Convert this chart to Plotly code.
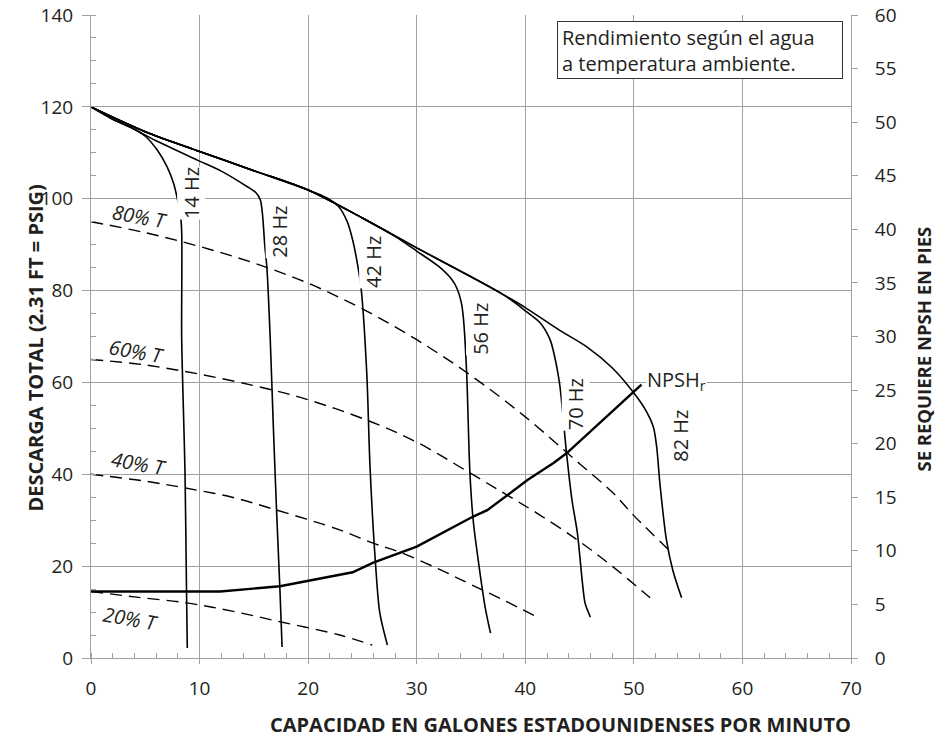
import plotly.graph_objects as go

# pump curves: capacity (US gpm) vs total head
hz14_x = [0, 2, 3.6, 5, 6.1, 7, 7.6, 8.0, 8.2, 8.35, 8.35, 8.5, 8.66, 8.8, 8.87]
hz14_y = [120, 117.3, 115.6, 113.6, 110.6, 107, 103.4, 99.5, 97.3, 93, 70, 55, 40.3, 14.2, 2.2]

hz28_x = [0, 2, 3.6, 6, 9.8, 12, 14.4, 15.2, 15.6, 15.8, 16.0, 16.2, 16.5, 16.8, 17.1, 17.4, 17.6]
hz28_y = [120, 117.3, 115.6, 112.6, 108.4, 106, 102.6, 101.3, 99.7, 96.5, 90, 85, 70, 50, 31.6, 15, 2.4]

hz42_x = [0, 5, 10, 15, 20, 21.7, 22.8, 23.6, 24.1, 24.6, 24.9, 25.4, 25.7, 26.2, 26.6, 27.3]
hz42_y = [120, 114.6, 110.3, 106.1, 101.9, 100.2, 98.3, 95, 91, 85, 80, 62, 41.6, 20.7, 9.8, 2.8]

hz56_x = [0, 5, 10, 15, 20, 25, 28, 30, 32, 33.2, 33.7, 34.1, 34.3, 34.6, 34.9, 35.2, 35.7, 36.3, 36.8]
hz56_y = [120, 114.6, 110.3, 106.1, 101.9, 95.8, 91.8, 88.6, 85.3, 82.5, 80.5, 77.5, 74, 62, 40.3, 30, 20.7, 11.1, 5.4]

hz70_x = [0, 5, 10, 15, 20, 25, 30, 35, 37.7, 38.9, 40, 41.4, 42.3, 42.9, 43.2, 43.8, 44.3, 44.8, 45.5, 45.8, 46.0]
hz70_y = [120, 114.6, 110.3, 106.1, 101.9, 95.8, 89.3, 83, 79.5, 77.6, 75.6, 72.9, 69.2, 63.4, 59, 44.6, 34.4, 27.2, 12, 10, 8.9]

hz82_x = [0, 5, 10, 15, 20, 25, 30, 35, 37.7, 40, 43, 45.7, 48, 49.9, 51.2, 51.8, 52.1, 52.4, 53.0, 53.6, 54.4]
hz82_y = [120, 114.6, 110.3, 106.1, 101.9, 95.8, 89.3, 83, 79.5, 76.3, 71.6, 67.7, 63.2, 58, 53.5, 50.3, 46, 38, 25.7, 19, 13.1]

# efficiency curves
eff80_x = [0, 5, 10, 15, 20, 25, 30, 35, 40, 45, 48.1, 50, 53.5]
eff80_y = [95, 92.6, 89.6, 86, 81.6, 76, 69.3, 61.5, 52.5, 42.3, 35.9, 31, 22.9]
eff60_x = [0, 5, 10, 15, 19.2, 25.4, 30, 34.9, 38.3, 41.1, 44.8, 48, 51.5]
eff60_y = [65, 63.8, 61.8, 59.3, 56.8, 51.8, 47, 40.3, 35.5, 31.5, 25.7, 20, 13.1]
eff40_x = [0, 5, 8.7, 13, 17.1, 22.9, 26, 28.7, 32, 35, 38, 41.1]
eff40_y = [40, 38.5, 37, 35, 32.2, 27.9, 25, 22.8, 19.4, 16, 12.6, 8.9]
eff20_x = [0, 4, 8.8, 13, 17.4, 22.9, 25.9]
eff20_y = [14.5, 13.3, 12, 10.2, 7.9, 5.0, 2.8]

# NPSHr (right axis, ft)
npsh_x = [0, 11.9, 17.4, 22.9, 24.1, 26, 30, 35.2, 36.5, 40.2, 42.6, 43.8, 50.7]
npsh_y = [6.2, 6.2, 6.7, 7.8, 8.0, 8.9, 10.4, 13.2, 13.8, 16.6, 18.2, 19.1, 25.5]

FONT = "Open Sans"
TXT = "#231f20"
GRID = "#a0a0a0"

fig = go.Figure()

for xs, ys in [(hz14_x, hz14_y), (hz28_x, hz28_y), (hz42_x, hz42_y),
               (hz56_x, hz56_y), (hz70_x, hz70_y), (hz82_x, hz82_y)]:
    fig.add_trace(go.Scatter(x=xs, y=ys, mode="lines", line=dict(color="black", width=1.6, shape="spline", smoothing=0.8),
                             showlegend=False, hoverinfo="skip"))

for xs, ys in [(eff80_x, eff80_y), (eff60_x, eff60_y), (eff40_x, eff40_y), (eff20_x, eff20_y)]:
    fig.add_trace(go.Scatter(x=xs, y=ys, mode="lines", line=dict(color="black", width=1.4, dash="12px,7px", shape="spline"),
                             showlegend=False, hoverinfo="skip"))

fig.add_trace(go.Scatter(x=npsh_x, y=npsh_y, yaxis="y2", mode="lines", line=dict(color="black", width=2.4),
                         showlegend=False, hoverinfo="skip"))

# curve labels
hz_labels = [("14 Hz", 9.2, 101.2), ("28 Hz", 17.4, 92.8), ("42 Hz", 26.0, 86.3),
             ("56 Hz", 35.8, 71.6), ("70 Hz", 44.6, 55.3), ("82 Hz", 54.3, 48.3)]
for t, x, y in hz_labels:
    fig.add_annotation(x=x, y=y, text=t, textangle=-90, showarrow=False, bgcolor="white",
                       xanchor="center", yanchor="middle",
                       borderpad=0, font=dict(family=FONT, size=20, color=TXT))

eff_labels = [("80% T", 4.5, 96.1), ("60% T", 4.2, 66.8), ("40% T", 4.4, 42.3), ("20% T", 3.6, 8.6)]
for t, x, y in eff_labels:
    fig.add_annotation(x=x, y=y, text="<i>" + t + "</i>", textangle=10, showarrow=False,
                       xanchor="center", yanchor="middle",
                       font=dict(family=FONT, size=20, color=TXT))

fig.add_annotation(x=51.1, y=60.5, text="NPSH<sub>r</sub>", xanchor="left", yanchor="middle", showarrow=False,
                   bgcolor="white", borderpad=0, font=dict(family=FONT, size=20, color=TXT))

fig.add_annotation(x=42.9, y=138.6, xanchor="left", yanchor="top", align="left", valign="middle",
                   width=276, height=48, showarrow=False,
                   text="Rendimiento según el agua<br>a temperatura ambiente.",
                   bgcolor="white", bordercolor="#333", borderwidth=1, borderpad=4,
                   font=dict(family=FONT, size=20, color=TXT))

# axis titles
fig.add_annotation(xref="paper", yref="paper", x=0.618, y=-0.104, xanchor="center", yanchor="middle",
                   showarrow=False, text="<b>CAPACIDAD EN GALONES ESTADOUNIDENSES POR MINUTO</b>",
                   font=dict(family=FONT, size=20, color=TXT))
fig.add_annotation(xref="paper", yref="paper", x=-0.073, y=0.482, xanchor="center", yanchor="middle",
                   textangle=-90, showarrow=False, text="<b>DESCARGA TOTAL (2.31 FT = PSIG)</b>",
                   font=dict(family=FONT, size=20, color=TXT))
fig.add_annotation(xref="paper", yref="paper", x=1.095, y=0.48, xanchor="center", yanchor="middle",
                   textangle=-90, showarrow=False, text="<b>SE REQUIERE NPSH EN PIES</b>",
                   font=dict(family=FONT, size=18.5, color=TXT))

tick_font = dict(family=FONT, size=19, color=TXT)
fig.update_layout(
    width=936, height=738,
    margin=dict(l=91, r=85, t=15, b=80),
    plot_bgcolor="white", paper_bgcolor="white",
    xaxis=dict(range=[0, 70], dtick=10, showgrid=True, gridcolor=GRID, zeroline=False, automargin=False,
               showline=True, linecolor=GRID, ticks="outside", ticklen=5, tickcolor=GRID, ticklabelstandoff=8,
               minor=dict(dtick=2, ticks="inside", ticklen=5, tickcolor=GRID, showgrid=False),
               tickfont=tick_font, ticklabeloverflow="allow"),
    yaxis=dict(range=[0, 140], dtick=20, showgrid=True, gridcolor=GRID, zeroline=False, automargin=False,
               showline=True, linecolor=GRID, ticks="outside", ticklen=8, tickcolor=GRID, ticklabelstandoff=5,
               minor=dict(dtick=5, ticks="inside", ticklen=5, tickcolor=GRID, showgrid=False),
               tickfont=tick_font, ticklabeloverflow="allow"),
    yaxis2=dict(range=[0, 60], dtick=5, overlaying="y", side="right", showgrid=False, zeroline=False,
                automargin=False, showline=True, linecolor=GRID, ticks="outside", ticklen=6, tickcolor=GRID,
                ticklabelstandoff=13, tickfont=tick_font, ticklabeloverflow="allow"),
)

# page body has a default 8px margin; drop it so the chart fills the window
fig.write_html("out.html", config={"displayModeBar": False},
               post_script="document.body.style.margin='0';")
